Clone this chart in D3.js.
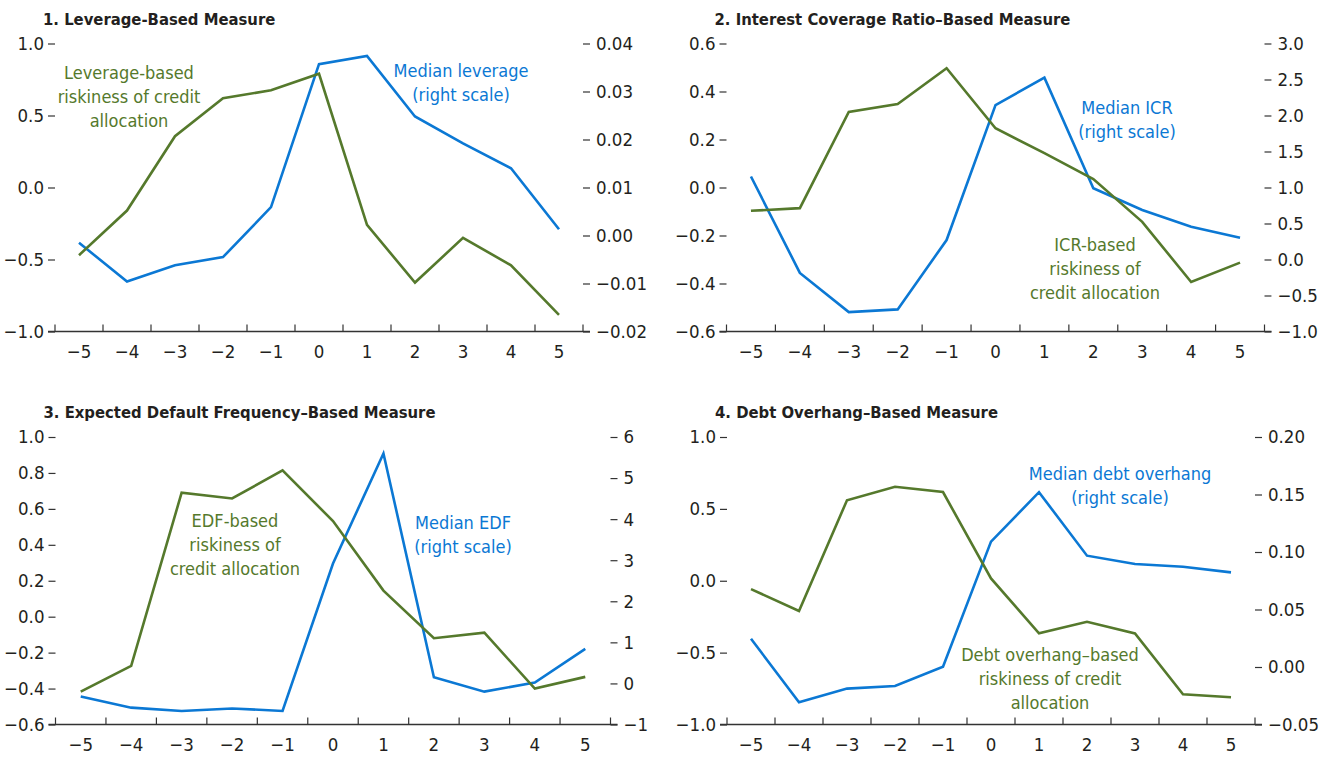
<!DOCTYPE html>
<html>
<head>
<meta charset="utf-8">
<script src="https://cdn.jsdelivr.net/npm/d3@7"></script>
<style>
  body { margin: 0; background: #fff; }
  svg text { font-family: "Liberation Sans Narrow", "DejaVu Sans Condensed", sans-serif; font-stretch: condensed; fill: #231f20; }
</style>
</head>
<body>
<div id="chart"></div>
<script>
// event years
const years = [-5, -4, -3, -2, -1, 0, 1, 2, 3, 4, 5];

// 1. leverage
const levRisk = [-0.47, -0.16, 0.356, 0.62, 0.675, 0.79, -0.26, -0.66, -0.35, -0.54, -0.885];
const levMedian = [-0.0015, -0.0096, -0.0062, -0.0045, 0.0059, 0.0357, 0.0374, 0.0248, 0.0192, 0.014, 0.0013];
const levLeftTicks = [-1.0, -0.5, 0.0, 0.5, 1.0];
const levRightTicks = [-0.02, -0.01, 0.0, 0.01, 0.02, 0.03, 0.04];

// 2. interest coverage ratio
const icrRisk = [-0.097, -0.086, 0.315, 0.348, 0.497, 0.247, 0.143, 0.035, -0.143, -0.394, -0.313];
const icrMedian = [1.153, -0.186, -0.73, -0.693, 0.27, 2.144, 2.526, 0.99, 0.688, 0.456, 0.302];
const icrLeftTicks = [-0.6, -0.4, -0.2, 0.0, 0.2, 0.4, 0.6];
const icrRightTicks = [-1.0, -0.5, 0.0, 0.5, 1.0, 1.5, 2.0, 2.5, 3.0];

// 3. expected default frequency
const edfRisk = [-0.417, -0.274, 0.69, 0.658, 0.814, 0.532, 0.145, -0.12, -0.089, -0.4, -0.335];
const edfMedian = [-0.32, -0.59, -0.67, -0.61, -0.67, 2.92, 5.6, 0.15, -0.2, 0.02, 0.84];
const edfLeftTicks = [-0.6, -0.4, -0.2, 0.0, 0.2, 0.4, 0.6, 0.8, 1.0];
const edfRightTicks = [-1, 0, 1, 2, 3, 4, 5, 6];

// 4. debt overhang
const dohRisk = [-0.058, -0.21, 0.56, 0.654, 0.617, 0.016, -0.366, -0.285, -0.366, -0.79, -0.81];
const dohMedian = [0.0246, -0.0307, -0.0188, -0.0165, 0.0003, 0.109, 0.152, 0.0968, 0.0895, 0.0872, 0.0823];
const dohLeftTicks = [-1.0, -0.5, 0.0, 0.5, 1.0];
const dohRightTicks = [-0.05, 0.0, 0.05, 0.10, 0.15, 0.20];

const GREEN = "#55792c";
const BLUE = "#0b78d4";

const svg = d3.select("#chart").append("svg")
  .attr("width", 1326)
  .attr("height", 761);

const panels = [
  {
    title: "1. Leverage-Based Measure",
    box: { left: 55, right: 583, top: 43.5, bottom: 331.5 },
    risk: levRisk, median: levMedian,
    leftTicks: levLeftTicks, rightTicks: levRightTicks,
    leftFmt: d3.format(".1f"), rightFmt: d3.format(".2f"),
    greenLabel: { x: 129, y: 73, lines: ["Leverage-based", "riskiness of credit", "allocation"] },
    blueLabel: { x: 461, y: 71, lines: ["Median leverage", "(right scale)"] },
  },
  {
    title: "2. Interest Coverage Ratio\u2013Based Measure",
    box: { left: 726.5, right: 1264.5, top: 43.5, bottom: 331.5 },
    risk: icrRisk, median: icrMedian,
    leftTicks: icrLeftTicks, rightTicks: icrRightTicks,
    leftFmt: d3.format(".1f"), rightFmt: d3.format(".1f"),
    greenLabel: { x: 1095, y: 245, lines: ["ICR-based", "riskiness of", "credit allocation"] },
    blueLabel: { x: 1127, y: 108, lines: ["Median ICR", "(right scale)"] },
  },
  {
    title: "3. Expected Default Frequency\u2013Based Measure",
    box: { left: 55.5, right: 610.5, top: 437, bottom: 724.5 },
    risk: edfRisk, median: edfMedian,
    leftTicks: edfLeftTicks, rightTicks: edfRightTicks,
    leftFmt: d3.format(".1f"), rightFmt: d3.format("d"),
    greenLabel: { x: 235, y: 521, lines: ["EDF-based", "riskiness of", "credit allocation"] },
    blueLabel: { x: 463, y: 523, lines: ["Median EDF", "(right scale)"] },
  },
  {
    title: "4. Debt Overhang\u2013Based Measure",
    box: { left: 727, right: 1255, top: 437, bottom: 724.5 },
    risk: dohRisk, median: dohMedian,
    leftTicks: dohLeftTicks, rightTicks: dohRightTicks,
    leftFmt: d3.format(".1f"), rightFmt: d3.format(".2f"),
    greenLabel: { x: 1050, y: 655, lines: ["Debt overhang\u2013based", "riskiness of credit", "allocation"] },
    blueLabel: { x: 1120, y: 474, lines: ["Median debt overhang", "(right scale)"] },
  },
];

// minus sign instead of hyphen
const minus = (fmt) => (d) => fmt(d).replace("-", "\u2013");

function drawPanel(p) {
  const { left, right, top, bottom } = p.box;
  const tickLen = 7;
  const g = svg.append("g");

  const xBand = d3.scaleBand().domain(years).range([left, right]).padding(0);
  const x = (d) => xBand(d) + xBand.bandwidth() / 2;

  const yLeft = d3.scaleLinear()
    .domain(d3.extent(p.leftTicks))
    .range([bottom, top]);
  const yRight = d3.scaleLinear()
    .domain(d3.extent(p.rightTicks))
    .range([bottom, top]);

  // title
  g.append("text")
    .attr("x", left - 12)
    .attr("y", top - 19)
    .attr("font-size", 16.5)
    .attr("font-weight", "bold")
    .text(p.title);

  // left axis
  const axL = g.append("g")
    .attr("transform", `translate(${left},0)`)
    .call(d3.axisLeft(yLeft).tickValues(p.leftTicks).tickFormat(minus(p.leftFmt))
      .tickSize(tickLen).tickPadding(4));
  // right axis
  const axR = g.append("g")
    .attr("transform", `translate(${right},0)`)
    .call(d3.axisRight(yRight).tickValues(p.rightTicks).tickFormat(minus(p.rightFmt))
      .tickSize(tickLen).tickPadding(6));

  [axL, axR].forEach((ax) => {
    ax.select(".domain").remove();
    ax.selectAll("line").attr("stroke", "#333").attr("stroke-width", 1.2);
    ax.selectAll("text").attr("font-size", 18.5).attr("fill", "#231f20").attr("font-family", null);
  });

  // bottom axis: labels in band centres, ticks at band edges
  const axB = g.append("g")
    .attr("transform", `translate(0,${bottom})`)
    .call(d3.axisBottom(xBand).tickFormat(minus(d3.format("d"))).tickSize(0).tickPadding(13));
  axB.select(".domain").remove();
  axB.selectAll("text").attr("font-size", 18.5).attr("fill", "#231f20").attr("font-family", null);

  g.append("line")
    .attr("x1", left - tickLen).attr("x2", right + tickLen)
    .attr("y1", bottom).attr("y2", bottom)
    .attr("stroke", "#333").attr("stroke-width", 1.5);

  const edges = years.map((d) => xBand(d)).concat([xBand(years[years.length - 1]) + xBand.bandwidth()]);
  g.selectAll(".edge")
    .data(edges)
    .join("line")
    .attr("class", "edge")
    .attr("x1", (d) => d).attr("x2", (d) => d)
    .attr("y1", bottom - 7).attr("y2", bottom)
    .attr("stroke", "#333").attr("stroke-width", 1.2);

  // lines
  const riskLine = d3.line().x((d, i) => x(years[i])).y((d) => yLeft(d));
  const medLine = d3.line().x((d, i) => x(years[i])).y((d) => yRight(d));

  g.append("path")
    .datum(p.median)
    .attr("d", medLine)
    .attr("fill", "none")
    .attr("stroke", BLUE)
    .attr("stroke-width", 2.6);

  g.append("path")
    .datum(p.risk)
    .attr("d", riskLine)
    .attr("fill", "none")
    .attr("stroke", GREEN)
    .attr("stroke-width", 2.6);

  // annotations
  [[p.greenLabel, GREEN], [p.blueLabel, BLUE]].forEach(([lab, col]) => {
    g.append("g")
      .selectAll("text")
      .data(lab.lines)
      .join("text")
      .attr("x", lab.x)
      .attr("y", (d, i) => lab.y + i * 24)
      .attr("dy", "0.35em")
      .attr("text-anchor", "middle")
      .attr("font-size", 18)
      .style("fill", col)
      .text((d) => d);
  });
}

panels.forEach(drawPanel);
</script>
</body>
</html>
